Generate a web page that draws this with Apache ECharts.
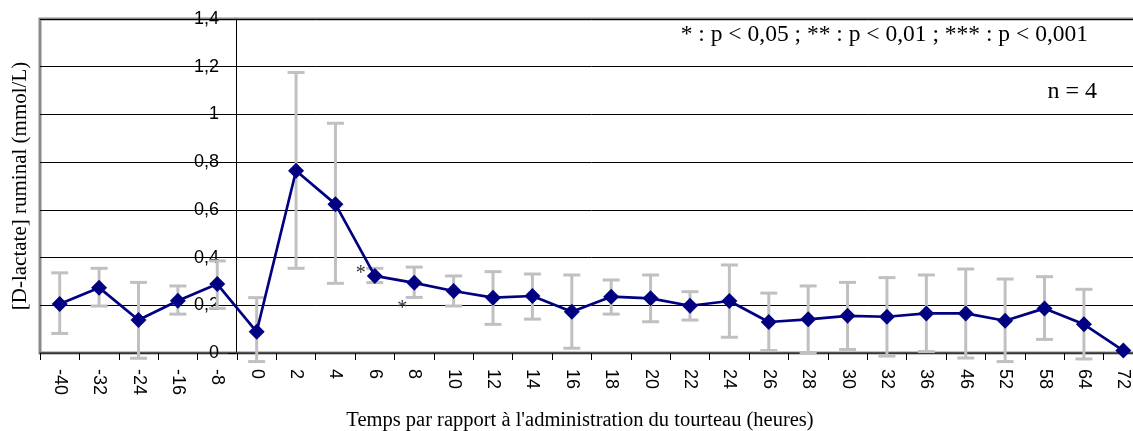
<!DOCTYPE html>
<html>
<head>
<meta charset="utf-8">
<script src="https://cdn.jsdelivr.net/npm/echarts@6/dist/echarts.min.js"></script>
<style>
html,body{margin:0;padding:0;background:#fff;overflow:hidden;width:1133px;height:431px;}
#c{width:1143px;height:431px;}
</style>
</head>
<body>
<div id="c"></div>
<script>
var categories = ['-40','-32','-24','-16','-8','0','2','4','6','8','10','12','14','16','18','20','22','24','26','28','30','32','36','46','52','58','64','72'];
var meanValues = [0.205,0.274,0.138,0.219,0.289,0.089,0.764,0.624,0.323,0.294,0.260,0.232,0.239,0.173,0.236,0.229,0.198,0.218,0.130,0.141,0.156,0.152,0.166,0.166,0.135,0.187,0.120,0.010];
var upperValues = [0.336,0.355,0.296,0.281,0.386,0.232,1.176,0.963,0.355,0.360,0.323,0.341,0.331,0.327,0.306,0.327,0.257,0.369,0.251,0.281,0.296,0.316,0.327,0.352,0.310,0.320,0.267,0.010];
var lowerValues = [0.082,0.197,-0.022,0.163,0.187,-0.036,0.355,0.292,0.295,0.233,0.197,0.120,0.142,0.020,0.163,0.131,0.138,0.066,0.010,0.001,0.015,-0.013,0.006,-0.021,-0.036,0.057,-0.025,0.010];
var significance = ['','','','','','','','','*','*','','','','','','','','','','','','','','','','','',''];
var yTickLabels = ['0','0,2','0,4','0,6','0,8','1','1,2','1,4'];
var yTitle = '[D-lactate] ruminal (mmol/L)';
var xTitle = "Temps par rapport à l'administration du tourteau (heures)";
var noteP = '* : p < 0,05 ; ** : p < 0,01 ; *** : p < 0,001';
var noteN = 'n = 4';

var chart = echarts.init(document.getElementById('c'), null, {renderer: 'canvas'});

var errData = categories.map(function (c, i) { return [i, lowerValues[i], upperValues[i]]; });

var sigLabelStyle = [
  {position: 'left', offset: [4, -2]},
  {position: 'bottom', offset: [-12, 3]}
];
var sigCount = 0;
var lineData = meanValues.map(function (v, i) {
  if (significance[i]) {
    var st = sigLabelStyle[Math.min(sigCount, sigLabelStyle.length - 1)];
    sigCount++;
    return {
      value: v,
      label: {
        show: true, formatter: significance[i], position: st.position, offset: st.offset,
        distance: 5, fontFamily: 'Liberation Serif', fontSize: 20, color: '#333'
      }
    };
  }
  return v;
});

var option = {
  animation: false,
  grid: {
    left: 40, right: 0, top: 19, bottom: 78,
    show: true, borderColor: '#8a8a8a', borderWidth: 3, backgroundColor: 'transparent'
  },
  xAxis: {
    type: 'category',
    data: categories,
    boundaryGap: true,
    axisLine: {show: true, lineStyle: {color: '#444', width: 1.5}},
    axisTick: {show: true, length: 7, lineStyle: {color: '#000', width: 1}, interval: 0},
    axisLabel: {
      interval: 0, rotate: -90, margin: 16,
      fontFamily: 'Liberation Sans', fontSize: 18, color: '#000'
    },
    splitLine: {show: false}
  },
  yAxis: {
    type: 'value',
    min: 0, max: 1.4, interval: 0.2,
    position: 'left',
    offset: -196,
    axisLine: {show: true, lineStyle: {color: '#000', width: 1}},
    axisTick: {show: true, length: 8, lineStyle: {color: '#000', width: 1}},
    axisLabel: {
      margin: 17,
      fontFamily: 'Liberation Sans', fontSize: 18, color: '#000',
      formatter: function (v) { return yTickLabels[Math.round(v / 0.2)]; }
    },
    splitLine: {show: true, lineStyle: {color: '#000', width: 1}}
  },
  series: [
    {
      type: 'custom',
      z: 2,
      clip: false,
      data: errData,
      renderItem: function (params, api) {
        var idx = api.value(0);
        var lo = api.coord([idx, api.value(1)]);
        var hi = api.coord([idx, api.value(2)]);
        if (Math.abs(hi[1] - lo[1]) < 1) return null;
        var half = 8.5;
        var st = {stroke: '#c0c0c0', lineWidth: 3};
        return {
          type: 'group',
          children: [
            {type: 'line', shape: {x1: hi[0], y1: hi[1], x2: lo[0], y2: lo[1]}, style: st},
            {type: 'line', shape: {x1: hi[0] - half, y1: hi[1], x2: hi[0] + half, y2: hi[1]}, style: st},
            {type: 'line', shape: {x1: lo[0] - half, y1: lo[1], x2: lo[0] + half, y2: lo[1]}, style: st}
          ]
        };
      }
    },
    {
      type: 'line',
      z: 3,
      data: lineData,
      symbol: 'diamond',
      symbolSize: 16,
      showAllSymbol: true,
      lineStyle: {color: '#000080', width: 2.7},
      itemStyle: {color: '#000080'}
    }
  ],
  graphic: [
    {
      type: 'text', x: 20, y: 186, rotation: Math.PI / 2,
      style: {text: yTitle, font: '21px "Liberation Serif"', fill: '#000', textAlign: 'center', textVerticalAlign: 'middle'}
    },
    {
      type: 'text', x: 580, y: 421,
      style: {text: xTitle, font: '20.5px "Liberation Serif"', fill: '#000', textAlign: 'center', textVerticalAlign: 'middle'}
    },
    {
      type: 'text', x: 1088, y: 35,
      style: {text: noteP, font: '23.5px "Liberation Serif"', fill: '#000', textAlign: 'right', textVerticalAlign: 'middle'}
    },
    {
      type: 'text', x: 1097, y: 92,
      style: {text: noteN, font: '24px "Liberation Serif"', fill: '#000', textAlign: 'right', textVerticalAlign: 'middle'}
    }
  ]
};
chart.setOption(option);
</script>
</body>
</html>
